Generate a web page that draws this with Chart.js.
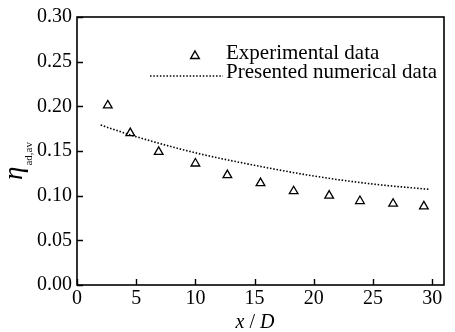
<!DOCTYPE html>
<html>
<head>
<meta charset="utf-8">
<script src="https://cdn.jsdelivr.net/npm/chart.js@4.4.1/dist/chart.umd.min.js"></script>
<style>
  html, body { margin: 0; padding: 0; background: #fff; }
  #chart { display: block; }
</style>
</head>
<body>
<canvas id="chart" width="455" height="332"></canvas>
<script>
// measured points
const expX = [2.6, 4.5, 6.9, 10.0, 12.7, 15.5, 18.3, 21.3, 23.9, 26.7, 29.3];
const expY = [0.201, 0.170, 0.149, 0.136, 0.123, 0.114, 0.105, 0.100, 0.094, 0.091, 0.088];

// numerical prediction
const numX = [2, 5, 10, 15, 20, 25, 29.8];
const numY = [0.179, 0.166, 0.148, 0.134, 0.122, 0.113, 0.107];

const xTicks = [0, 5, 10, 15, 20, 25, 30];
const yTicks = [0, 0.05, 0.10, 0.15, 0.20, 0.25, 0.30];

const FONT = 'Liberation Serif';

const toPoints = (xs, ys) => xs.map((x, i) => ({ x, y: ys[i] }));

// frame, inward ticks, legend and axis titles
const decorations = {
  id: 'decorations',
  afterDraw(chart) {
    const { ctx, chartArea: a, scales } = chart;
    ctx.save();
    ctx.strokeStyle = '#000';
    ctx.lineWidth = 1.6;
    ctx.strokeRect(a.left, a.top, a.right - a.left, a.bottom - a.top);

    ctx.lineWidth = 1.4;
    ctx.beginPath();
    xTicks.forEach((v) => {
      const px = Math.round(scales.x.getPixelForValue(v)) + 0.5;
      ctx.moveTo(px, a.bottom);
      ctx.lineTo(px, a.bottom - 6);
    });
    yTicks.forEach((v) => {
      const py = Math.round(scales.y.getPixelForValue(v)) + 0.5;
      ctx.moveTo(a.left, py);
      ctx.lineTo(a.left + 6, py);
    });
    ctx.stroke();

    // legend
    const sets = chart.data.datasets;
    ctx.fillStyle = 'rgba(0,0,0,0)';
    Chart.helpers.drawPoint(ctx, { pointStyle: 'triangle', radius: 5, borderWidth: 1.3 }, 195, 56);
    ctx.fillStyle = '#000';
    ctx.font = `21px ${FONT}`;
    ctx.textBaseline = 'alphabetic';
    ctx.textAlign = 'left';
    ctx.fillText(sets[0].label, 226, 59);
    ctx.save();
    ctx.lineWidth = 1.6;
    ctx.setLineDash([1.5, 1.8]);
    ctx.beginPath();
    ctx.moveTo(150, 76);
    ctx.lineTo(223, 76);
    ctx.stroke();
    ctx.restore();
    ctx.fillText(sets[1].label, 226, 78);

    // x title
    const t1 = 'x', t2 = ' / ', t3 = 'D';
    ctx.font = `italic 20px ${FONT}`;
    const w1 = ctx.measureText(t1).width, w3 = ctx.measureText(t3).width;
    ctx.font = `20px ${FONT}`;
    const w2 = ctx.measureText(t2).width;
    const tx = 255 - (w1 + w2 + w3) / 2;
    ctx.font = `italic 20px ${FONT}`;
    ctx.fillText(t1, tx, 328);
    ctx.font = `20px ${FONT}`;
    ctx.fillText(t2, tx + w1, 328);
    ctx.font = `italic 20px ${FONT}`;
    ctx.fillText(t3, tx + w1 + w2, 328);

    // y title
    ctx.translate(22, 180);
    ctx.rotate(-Math.PI / 2);
    ctx.font = `italic 27px ${FONT}`;
    ctx.fillText('η', 0, 0);
    const we = ctx.measureText('η').width;
    ctx.font = `11px ${FONT}`;
    ctx.fillText('ad,av', we + 1, 10);
    ctx.restore();
  }
};

new Chart(document.getElementById('chart'), {
  type: 'scatter',
  data: {
    datasets: [
      {
        label: 'Experimental data',
        data: toPoints(expX, expY),
        pointStyle: 'triangle',
        pointRadius: 5,
        pointBorderWidth: 1.3,
        pointBorderColor: '#000',
        pointBackgroundColor: 'rgba(0,0,0,0)',
        showLine: false
      },
      {
        label: 'Presented numerical data',
        data: toPoints(numX, numY),
        showLine: true,
        borderColor: '#000',
        borderWidth: 1.6,
        borderDash: [1.5, 1.8],
        cubicInterpolationMode: 'monotone',
        pointRadius: 0
      }
    ]
  },
  options: {
    responsive: false,
    animation: false,
    layout: { padding: { left: 0, top: 13, right: 11, bottom: 0 } },
    plugins: { legend: { display: false }, tooltip: { enabled: false } },
    scales: {
      x: {
        type: 'linear',
        min: 0,
        max: 31,
        afterBuildTicks: (s) => { s.ticks = xTicks.map((value) => ({ value })); },
        afterFit: (s) => { s.height = 47; },
        grid: { display: false, drawTicks: false },
        border: { display: false },
        ticks: { color: '#000', font: { family: FONT, size: 20 }, padding: 2 }
      },
      y: {
        min: 0,
        max: 0.3,
        afterBuildTicks: (s) => { s.ticks = yTicks.map((value) => ({ value })); },
        afterFit: (s) => { s.width = 77; },
        grid: { display: false, drawTicks: false },
        border: { display: false },
        ticks: {
          color: '#000',
          font: { family: FONT, size: 20 },
          padding: 5,
          callback: (v) => Number(v).toFixed(2)
        }
      }
    }
  },
  plugins: [decorations]
});
</script>
</body>
</html>
